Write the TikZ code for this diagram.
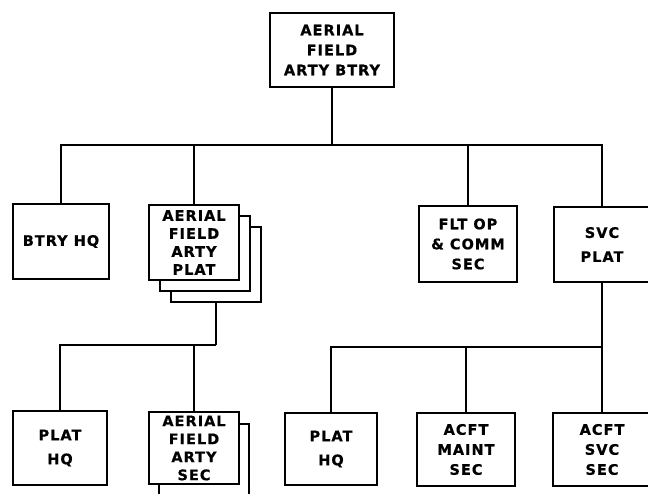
\documentclass[tikz,border=0pt]{standalone}
\usepackage{fontspec}
\setmainfont{DejaVu Sans}[BoldFont={DejaVu Sans Bold},BoldFeatures={FakeBold=0.6},LetterSpace=7]
\usetikzlibrary{calc}
\begin{document}
\begin{tikzpicture}[x=1pt,y=-1pt,
  every node/.style={inner sep=0pt},
  box/.style={draw,line width=1.8pt,fill=white,align=center,
    font=\bfseries\fontsize{14.5}{20}\selectfont},
  tight/.style={font=\bfseries\fontsize{14.5}{18}\selectfont},
  wide/.style={font=\bfseries\fontsize{14.5}{24}\selectfont},
  shadowbox/.style={draw,line width=1.8pt,fill=white},
  link/.style={line width=2pt}]
\useasboundingbox (0,0) rectangle (648,493);
% top
\node[box,minimum width=124pt,minimum height=74pt] (top) at (332,50) {AERIAL\\FIELD\\ARTY BTRY};
% level 1
\node[box,wide,minimum width=96pt,minimum height=75pt] (btryhq) at (61,241.5) {BTRY HQ};
\node[shadowbox,minimum width=90pt,minimum height=75pt] (plat3) at (216,264.5) {};
\node[shadowbox,minimum width=90pt,minimum height=75pt] (plat2) at (205,253.5) {};
\node[box,tight,minimum width=90pt,minimum height=75pt] (plat) at (194,242.5) {AERIAL\\FIELD\\ARTY\\PLAT};
\node[box,minimum width=98pt,minimum height=76pt] (fltop) at (468,244) {FLT OP\\\& COMM\\SEC};
\node[box,wide,minimum width=96pt,minimum height=75pt] (svcplat) at (602,244.5) {SVC\\PLAT};
% level 2
\node[box,wide,minimum width=94pt,minimum height=74pt] (plathq) at (60,448) {PLAT\\HQ};
\node[shadowbox,minimum width=90pt,minimum height=72pt] (sec2) at (204,460) {};
\node[box,tight,minimum width=90pt,minimum height=72pt] (sec) at (194,448) {AERIAL\\FIELD\\ARTY\\SEC};
\node[box,wide,minimum width=92pt,minimum height=72pt] (plathqb) at (331,449) {PLAT\\HQ};
\node[box,minimum width=98pt,minimum height=73pt] (maint) at (466,449.5) {ACFT\\MAINT\\SEC};
\node[box,minimum width=98pt,minimum height=73pt] (svcsec) at (602,449.5) {ACFT\\SVC\\SEC};
% connectors
\coordinate (bus1) at (332,145);
\coordinate (bus2) at (216,345);
\coordinate (bus3) at (602,347);
\draw[link] (top.south) -- (bus1);
\draw[link] (btryhq.north) |- (bus1);
\draw[link] (plat.north) |- (bus1);
\draw[link] (fltop.north) |- (bus1);
\draw[link] (svcplat.north) |- (bus1);
\draw[link] (plat3.south) -- (bus2);
\draw[link] (plathq.north) |- (bus2);
\draw[link,line width=1.4pt] (sec.north) |- (bus2);
\draw[link] (svcplat.south) -- (bus3);
\draw[link] (plathqb.north) |- (bus3);
\draw[link] (maint.north) |- (bus3);
\draw[link] (svcsec.north) |- (bus3);
\end{tikzpicture}
\end{document}
